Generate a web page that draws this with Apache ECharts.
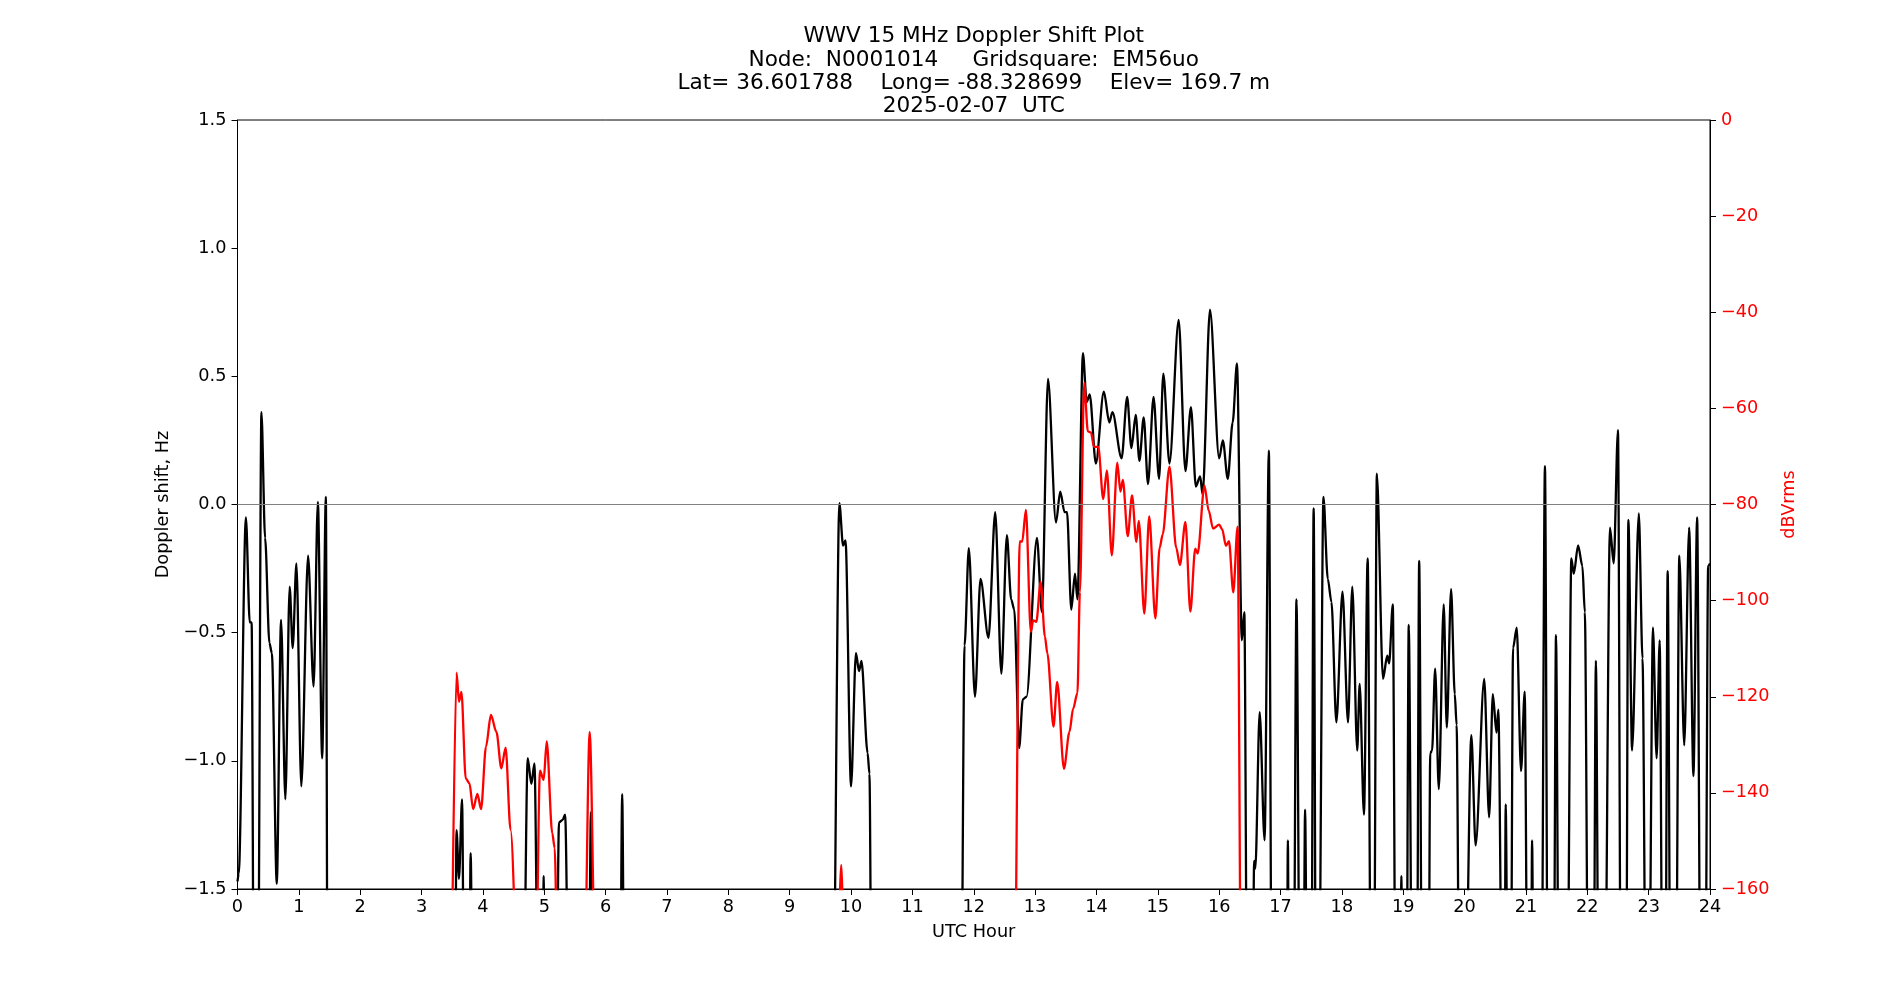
<!DOCTYPE html>
<html>
<head>
<meta charset="utf-8">
<title>WWV 15 MHz Doppler Shift Plot</title>
<script src="https://cdn.jsdelivr.net/npm/echarts@6/dist/echarts.min.js"></script>
<style>
html, body { margin: 0; padding: 0; background: #fff; }
#chart { width: 1900px; height: 1000px; }
</style>
</head>
<body>
<div id="chart"></div>
<script>
// Doppler shift (Hz) - black trace; -2.2 means below the axis
var dopplerHours = [0.00, 0.02, 0.137, 0.20, 0.23, 0.27, 0.33, 0.39, 0.45, 0.52, 0.56, 0.64, 0.71, 0.78, 0.85, 0.90, 0.96, 1.04, 1.15, 1.24, 1.31, 1.38, 1.44, 1.47,
	3.54, 3.57, 3.61, 3.66, 3.70, 3.77, 3.80, 3.84, 4.65, 4.73, 4.79, 4.84, 4.91, 4.97, 4.99, 5.01, 5.19, 5.24, 5.30, 5.34, 5.41, 5.72, 5.76, 5.80, 6.23, 6.27, 6.31,
	9.70, 9.81, 9.87, 9.91, 10.00, 10.08, 10.13, 10.17, 10.27, 10.30, 10.34,
	11.79, 11.85, 11.92, 12.02, 12.11, 12.24, 12.35, 12.45, 12.54, 12.61, 12.66, 12.74, 12.80, 12.86, 13.03, 13.11, 13.21, 13.34, 13.41, 13.48, 13.52, 13.59, 13.65, 13.69,
	13.78, 13.84, 13.89, 13.99, 14.12, 14.21, 14.26, 14.41, 14.50, 14.57, 14.64, 14.70, 14.77, 14.84, 14.93, 15.02, 15.09, 15.19, 15.34, 15.45, 15.54, 15.62, 15.69, 15.73,
	15.85, 16.00, 16.06, 16.14, 16.22, 16.29, 16.37, 16.41, 16.46, 16.54, 16.57, 16.59, 16.66, 16.74, 16.81, 16.86, 17.10, 17.12, 17.14, 17.21, 17.26, 17.32, 17.37, 17.40, 17.44,
	17.50, 17.54, 17.58, 17.62, 17.70, 17.77, 17.83, 17.91, 18.01, 18.10, 18.17, 18.25, 18.29, 18.36, 18.42, 18.48, 18.52, 18.57, 18.67, 18.74, 18.77, 18.83, 18.88,
	18.95, 18.97, 18.99, 19.05, 19.09, 19.15, 19.22, 19.26, 19.31, 19.41, 19.44, 19.47, 19.52, 19.58, 19.66, 19.71, 19.78, 19.84, 19.87, 19.92,
	20.00, 20.11, 20.18, 20.32, 20.40, 20.46, 20.52, 20.55, 20.62, 20.65, 20.67, 20.71, 20.75, 20.79, 20.85, 20.92, 20.98, 21.03, 21.08, 21.10, 21.13,
	21.25, 21.31, 21.36, 21.45, 21.49, 21.54, 21.67, 21.74, 21.78, 21.85, 21.92, 21.96, 22.02, 22.10, 22.14, 22.19, 22.28, 22.37, 22.43, 22.50, 22.55,
	22.63, 22.67, 22.73, 22.84, 22.90, 22.96, 23.00, 23.07, 23.13, 23.18, 23.23, 23.27, 23.31, 23.36, 23.44, 23.50, 23.58, 23.66, 23.73, 23.79, 23.85, 23.92, 23.97, 24.00];
var dopplerValues = [-1.47, -1.44, -0.05, -0.46, -0.46, -2.2, -2.2, 0.36, -0.13, -0.54, -0.58, -1.48, -0.45, -1.15, -0.32, -0.56, -0.23, -1.10, -0.20, -0.71, 0.01, -0.99, 0.03, -2.2,
	-2.2, -1.27, -1.46, -1.15, -2.2, -2.2, -1.36, -2.2, -2.2, -0.99, -1.09, -1.01, -2.2, -2.2, -1.45, -2.2, -2.2, -1.24, -1.23, -1.21, -2.2, -2.2, -1.20, -2.2, -2.2, -1.13, -2.2,
	-2.2, 0.005, -0.16, -0.14, -1.10, -0.58, -0.65, -0.61, -0.97, -1.05, -2.2,
	-2.2, -0.55, -0.17, -0.75, -0.29, -0.52, -0.03, -0.66, -0.12, -0.37, -0.41, -0.95, -0.76, -0.75, -0.13, -0.42, 0.49, -0.07, 0.05, -0.03, -0.03, -0.41, -0.27, -0.37,
	0.59, 0.40, 0.43, 0.16, 0.44, 0.32, 0.36, 0.18, 0.42, 0.22, 0.35, 0.17, 0.34, 0.08, 0.42, 0.10, 0.51, 0.16, 0.72, 0.13, 0.38, 0.07, 0.11, 0.04,
	0.76, 0.18, 0.25, 0.10, 0.32, 0.55, -0.53, -0.42, -2.2, -2.2, -1.39, -1.42, -0.81, -1.31, 0.21, -2.2, -2.2, -1.31, -2.2, -2.2, -0.37, -2.2, -2.2, -1.19, -2.2,
	-2.2, -0.015, -2.2, -2.2, 0.03, -0.29, -0.38, -0.85, -0.34, -0.85, -0.32, -0.96, -0.70, -1.21, -0.21, -2.2, -2.2, 0.12, -0.68, -0.59, -0.62, -0.39, -2.2,
	-2.2, -1.45, -2.2, -2.2, -0.47, -2.2, -2.2, -0.22, -2.2, -2.2, -0.97, -0.96, -0.64, -1.11, -0.39, -0.87, -0.33, -0.74, -0.86, -2.2,
	-2.2, -0.90, -1.33, -0.68, -1.22, -0.74, -0.89, -0.80, -2.2, -2.2, -1.17, -2.2, -2.2, -0.56, -0.48, -1.04, -0.73, -2.2, -2.2, -1.31, -2.2,
	-2.2, 0.15, -2.2, -2.2, -0.51, -2.2, -2.2, -0.21, -0.27, -0.16, -0.24, -0.42, -2.2, -2.2, -0.61, -2.2, -2.2, -0.09, -0.23, 0.29, -2.2,
	-2.2, -0.06, -0.96, -0.035, -0.60, -2.2, -2.2, -0.48, -0.99, -0.53, -2.2, -2.2, -0.26, -2.2, -2.2, -0.20, -0.94, -0.09, -1.06, -0.05, -2.2, -2.2, -0.24, -0.23];

// Signal level (dBVrms) - red trace; -190 means below the axis
var powerHours = [3.48, 3.57, 3.61, 3.65, 3.72, 3.78, 3.84, 3.91, 3.97, 4.05, 4.13, 4.22, 4.30, 4.37, 4.45, 4.60,
	4.85, 4.93, 4.99, 5.04, 5.13, 5.17, 5.23, 5.64, 5.74, 5.85, 9.76, 9.84, 9.91,
	12.66, 12.75, 12.79, 12.85, 12.93, 12.97, 13.02, 13.09, 13.16, 13.20, 13.30, 13.36, 13.47, 13.56, 13.62, 13.69, 13.73,
	13.80, 13.86, 13.91, 13.96, 14.03, 14.11, 14.17, 14.25, 14.34, 14.39, 14.43, 14.51, 14.58, 14.65, 14.69, 14.78, 14.86, 14.96,
	15.03, 15.08, 15.19, 15.30, 15.36, 15.45, 15.53, 15.61, 15.65, 15.76, 15.83, 15.90, 16.00, 16.05, 16.11, 16.16, 16.23, 16.30, 16.36, 24.00];
var powerValues = [-190, -115, -121, -119, -137, -138, -143.4, -140.2, -143.4, -130.4, -123.8, -127.3, -134.9, -130.6, -147.7, -190,
	-190, -135.4, -137.3, -129.3, -148.4, -151.5, -190, -190, -127.3, -190, -190, -155, -190,
	-190, -87.7, -87.7, -81.1, -106.5, -104.1, -104.4, -96.1, -107.5, -111, -126.2, -116.9, -135.0, -127.3, -122.5, -119.2, -98.3,
	-54.7, -64.8, -65, -68, -68, -78.9, -72.9, -90.6, -71.3, -77.3, -74.9, -86.6, -78.1, -87.8, -83.4, -102.7, -82.5, -103.7,
	-89, -86.2, -72.1, -89, -92.6, -83.6, -102.3, -89.2, -90.2, -76.1, -81.3, -85, -84.2, -85.2, -88.6, -87.6, -98.3, -84.6, -190, -190];

var titleLines = [
	'WWV 15 MHz Doppler Shift Plot',
	'Node:  N0001014     Gridsquare:  EM56uo',
	'Lat= 36.601788    Long= -88.328699    Elev= 169.7 m',
	'2025-02-07  UTC'
];

var FONT = 'DejaVu Sans';

function pairs(xs, ys){
	var out = [];
	for (var i = 0; i < xs.length; i++) {
		out.push([xs[i], ys[i]]);
	}
	return out;
}

// matplotlib style minus sign
function minus(s){
	return String(s).replace('-', '\u2212');
}

var myChart = echarts.init(document.getElementById('chart'), null, {renderer: 'canvas'});

var option = {
	animation: false,
	backgroundColor: '#fff',
	title: {
		text: titleLines.join('\n'),
		left: 973.75,
		top: 25,
		textAlign: 'center',
		padding: 0,
		textStyle: {
			fontFamily: FONT,
			fontSize: 21.6,
			fontWeight: 'normal',
			lineHeight: 23.3,
			color: '#000'
		}
	},
	grid: {
		left: 237.5,
		right: 190,
		top: 120,
		bottom: 111,
		show: true,
		borderColor: '#000',
		borderWidth: 1,
		backgroundColor: 'transparent'
	},
	xAxis: {
		type: 'value',
		min: 0,
		max: 24,
		interval: 1,
		name: 'UTC Hour',
		nameLocation: 'middle',
		nameGap: 34.5,
		nameTextStyle: {fontFamily: FONT, fontSize: 17.7, color: '#000'},
		axisLine: {show: true, onZero: false, lineStyle: {color: '#000', width: 1}},
		axisTick: {show: true, length: 6, lineStyle: {color: '#000'}},
		axisLabel: {fontFamily: FONT, fontSize: 17.7, color: '#000', margin: 9},
		splitLine: {show: false}
	},
	yAxis: [
		{
			type: 'value',
			min: -1.5,
			max: 1.5,
			interval: 0.5,
			name: 'Doppler shift, Hz',
			nameLocation: 'middle',
			nameGap: 56,
			nameRotate: 90,
			nameTextStyle: {fontFamily: FONT, fontSize: 17.7, color: '#000'},
			axisLine: {show: true, onZero: false, lineStyle: {color: '#000', width: 1}},
			axisTick: {show: true, length: 6, lineStyle: {color: '#000'}},
			axisLabel: {
				fontFamily: FONT, fontSize: 17.7, color: '#000', margin: 11,
				formatter: function (v) { return minus(v.toFixed(1)); }
			},
			splitLine: {show: false}
		},
		{
			type: 'value',
			position: 'right',
			min: -160,
			max: 0,
			interval: 20,
			name: 'dBVrms',
			nameLocation: 'middle',
			nameGap: 58,
			nameRotate: 90,
			nameTextStyle: {fontFamily: FONT, fontSize: 17.7, color: '#ff0000'},
			axisLine: {show: true, onZero: false, lineStyle: {color: '#000', width: 1}},
			axisTick: {show: true, length: 6, lineStyle: {color: '#000'}},
			axisLabel: {
				fontFamily: FONT, fontSize: 17.7, color: '#ff0000', margin: 11,
				formatter: function (v) { return minus(v); }
			},
			splitLine: {show: false}
		}
	],
	series: [
		{
			name: 'Doppler',
			type: 'line',
			yAxisIndex: 0,
			data: pairs(dopplerHours, dopplerValues),
			showSymbol: false,
			smooth: 0.3,
			smoothMonotone: 'x',
			clip: true,
			lineStyle: {color: '#000', width: 2.3},
			z: 3,
			markLine: {
				silent: true,
				symbol: 'none',
				label: {show: false},
				lineStyle: {color: '#808080', width: 1.2, type: 'solid'},
				data: [{yAxis: 0}]
			}
		},
		{
			name: 'dBVrms',
			type: 'line',
			yAxisIndex: 1,
			data: pairs(powerHours, powerValues),
			showSymbol: false,
			smooth: 0.3,
			smoothMonotone: 'x',
			clip: true,
			lineStyle: {color: '#ff0000', width: 2.3},
			z: 4
		}
	]
};

myChart.setOption(option);
</script>
</body>
</html>
